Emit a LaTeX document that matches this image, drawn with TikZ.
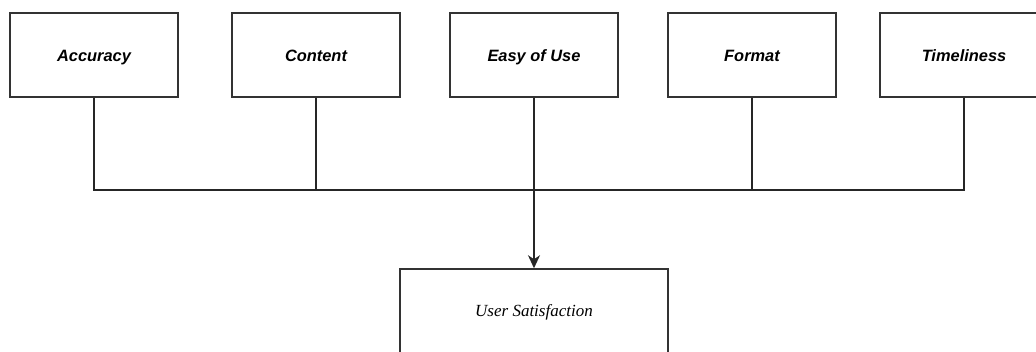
\documentclass[tikz,border=0pt]{standalone}
\usepackage{fontspec}
\newfontfamily\labfont{Liberation Sans}
\newfontfamily\serfont{Liberation Serif}
\usetikzlibrary{arrows.meta}
\begin{document}
\begin{tikzpicture}[x=1pt,y=-1pt,
  factor/.style={draw=black!80, line width=1.5pt, fill=white, minimum width=168pt, minimum height=84pt, inner sep=0pt,
    text height=15.5pt, text depth=3.5pt,
    font=\labfont\bfseries\itshape\fontsize{16.4}{19}\selectfont},
  result/.style={draw=black!80, line width=1.5pt, fill=white, minimum width=268pt, minimum height=84pt, inner sep=0pt,
    text height=13.5pt, text depth=3.5pt,
    font=\serfont\itshape\fontsize{17}{19}\selectfont},
  conn/.style={draw=black!85, line width=1.6pt}]
\useasboundingbox (0,0) rectangle (1036,351);
\clip (0,0) rectangle (1036,351);
\node[factor] (acc) at (94,55) {Accuracy};
\node[factor] (con) at (316,55) {Content};
\node[factor] (eou) at (534,55) {Easy of Use};
\node[factor] (fmt) at (752,55) {Format};
\node[factor] (tim) at (964,55) {Timeliness};
\node[result] (us) at (534,311) {User Satisfaction};
\coordinate (bus) at (534,190);
\draw[conn] (acc.south) |- (bus);
\draw[conn] (con.south) |- (bus);
\draw[conn] (fmt.south) |- (bus);
\draw[conn] (tim.south) |- (bus);
\draw[conn, -{Stealth[length=13pt,width=12pt,inset=4pt]}] (eou.south) -- (us.north);
\end{tikzpicture}
\end{document}
